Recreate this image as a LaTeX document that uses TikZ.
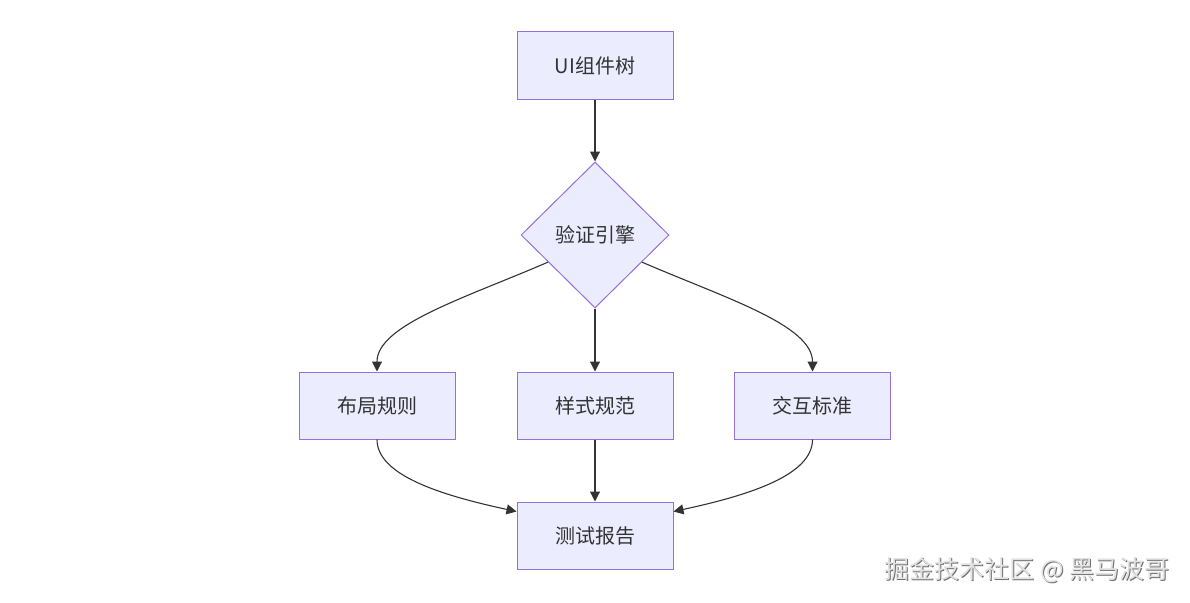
\documentclass[tikz,border=0pt]{standalone}
\usepackage{fontspec}
\newfontfamily\cjk{Noto Sans CJK SC}
\usetikzlibrary{shapes.geometric,arrows.meta}
\definecolor{nodefill}{HTML}{ECECFF}
\definecolor{nodeline}{HTML}{9370DB}
\definecolor{edgecol}{HTML}{333333}
\definecolor{wmmain}{HTML}{E2E2E2}
\definecolor{wmshadow}{HTML}{707070}
\begin{document}
\begin{tikzpicture}[x=1pt,y=-1pt,
  boxnode/.style={draw=nodeline,fill=nodefill,line width=1pt,minimum width=156pt,minimum height=67pt,inner sep=0pt,font=\cjk\fontsize{20}{24}\selectfont,text=edgecol},
  decide/.style={diamond,draw=nodeline,fill=nodefill,line width=1pt,minimum width=148pt,minimum height=146pt,inner sep=0pt,font=\cjk\fontsize{20}{24}\selectfont,text=edgecol},
  arr/.style={draw=edgecol,line width=1.1pt,-{Triangle[length=10pt,width=10pt]}},
  wm/.style={font=\cjk\fontsize{25}{30}\selectfont,inner sep=0pt}]
\useasboundingbox (0,0) rectangle (1190,602);
\fill[white] (0,0) rectangle (1190,602);
\node[boxnode] (ui) at (595,65.5) {UI组件树};
\node[decide] (d) at (595,235) {验证引擎};
\node[boxnode] (b1) at (377,405.5) {布局规则};
\node[boxnode] (b2) at (595,405.5) {样式规范};
\node[boxnode] (b3) at (812.5,405.5) {交互标准};
\node[boxnode] (t) at (595,535.5) {测试报告};
\draw[arr] (ui.south) -- (d.north);
\draw[arr] (d.210) .. controls (465,298) and (377,325) .. (b1.north);
\draw[arr] (d.south) -- (b2.north);
\draw[arr] (d.330) .. controls (725,298) and (812.5,325) .. (b3.north);
\draw[arr] (b1.south) .. controls (377,475) and (440,495) .. (t.163);
\draw[arr] (b2.south) -- (t.north);
\draw[arr] (b3.south) .. controls (812.5,475) and (750,495) .. (t.17);
\node[wm,text=wmshadow] (wms) at (1028.2,571.2) {掘金技术社区 @ 黑马波哥};
\node[wm,text=wmmain] (wmt) at (1027,570) {掘金技术社区 @ 黑马波哥};
\end{tikzpicture}
\end{document}
